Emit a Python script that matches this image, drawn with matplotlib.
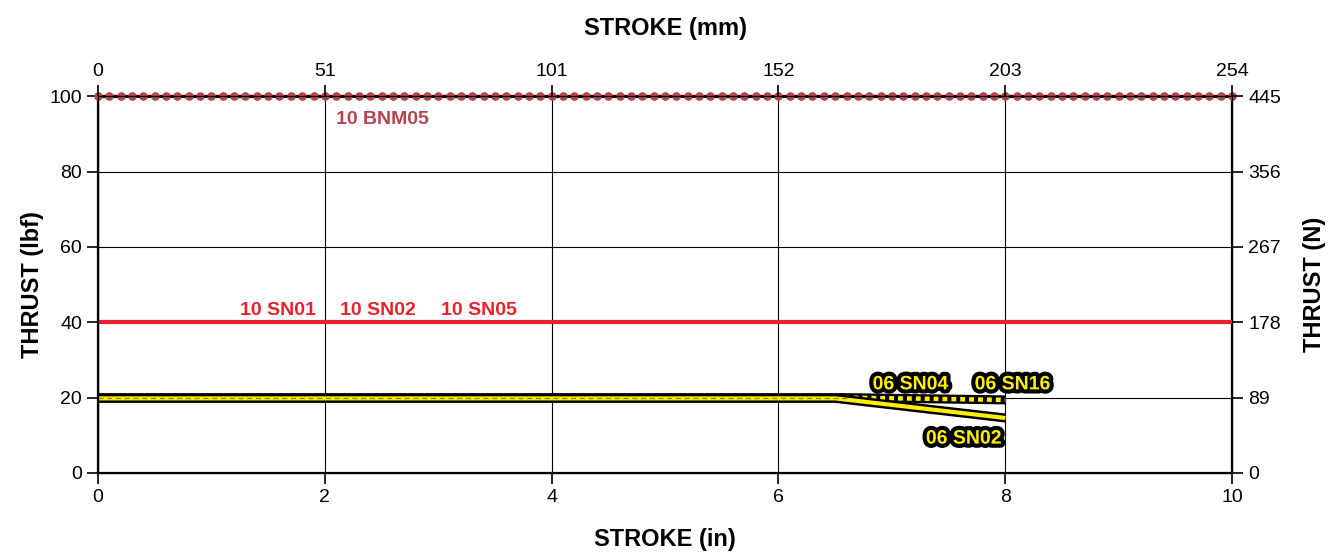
import numpy as np
import matplotlib.pyplot as plt
import matplotlib.patheffects as pe

plt.rcParams['font.family'] = ['Liberation Sans', 'DejaVu Sans']

# stroke (in) / thrust (lbf)
bnm05_x = [0, 10]
bnm05_y = [100, 100]
sn01_x = [0, 10]
sn01_y = [40, 40]
sn16_x = [0, 6.6, 8]
sn16_y = [20.0, 20.0, 19.4]
sn04_x = [0, 6.6]
sn04_y = [20.0, 20.0]
sn02_x = [0, 6.5, 8]
sn02_y = [19.8, 19.8, 14.6]

in_ticks = [0, 2, 4, 6, 8, 10]
mm_labels = ['0', '51', '101', '152', '203', '254']
lbf_ticks = [0, 20, 40, 60, 80, 100]
n_labels = ['0', '89', '178', '267', '356', '445']

fig = plt.figure(figsize=(13.32, 5.53), dpi=100)
ax = fig.add_axes([0.0736, 0.1447, 0.8514, 0.6813])
ax.set_xlim(0, 10)
ax.set_ylim(0, 100)
ax.set_xticks(in_ticks)
ax.set_yticks(lbf_ticks)
ax.grid(True, color='black', lw=0.8)
ax.set_axisbelow(True)
for s in ax.spines.values():
    s.set_linewidth(1.6)
ax.tick_params(labelsize=14, length=8, width=1.2, direction='out')

outline = [pe.Stroke(linewidth=6.5, foreground='black'), pe.Normal()]

# 10 BNM05
bx = np.arange(0, 10.001, 0.1)
ax.plot(bnm05_x, bnm05_y, color='black', lw=2.2, clip_on=False, zorder=4)
ax.plot(bx, np.full_like(bx, bnm05_y[0]), ls='none', marker='o', ms=5.2,
        color='#b5434f', clip_on=False, zorder=5)

# 10 SN01/02/05
ax.plot(sn01_x, sn01_y, color='#e8222c', lw=3, zorder=4)

# 06 SN16 (dotted on black), 06 SN02 (solid), 06 SN04
ax.plot(sn16_x, sn16_y, color='black', lw=6.5, solid_capstyle='butt', zorder=4)
ax.plot(sn16_x, sn16_y, color='#ffee00', lw=3.2, ls=(0, (1.1, 0.9)),
        dash_capstyle='butt', zorder=4.5)
ax.plot(sn02_x, sn02_y, color='#ffee00', lw=3, solid_capstyle='butt',
        path_effects=outline, zorder=5)
ax.plot(sn04_x, sn04_y, color='#8a8a10', lw=0.9, ls=(0, (4, 3)), zorder=6)

bold = dict(fontsize=14, fontweight='bold')
ax.text(2.1, 92.5, '10 BNM05', color='#b5434f', **bold)
ax.text(1.25, 42, '10 SN01', color='#e8222c', **bold)
ax.text(2.13, 42, '10 SN02', color='#e8222c', **bold)
ax.text(3.02, 42, '10 SN05', color='#e8222c', **bold)
glow = [pe.Stroke(linewidth=6, foreground='black'), pe.Normal()]
ax.text(6.83, 22.2, '06 SN04', color='#ffee00', path_effects=glow, **bold)
ax.text(7.73, 22.2, '06 SN16', color='#ffee00', path_effects=glow, **bold)
ax.text(7.3, 7.8, '06 SN02', color='#ffee00', path_effects=glow, **bold)

ax.set_xlabel('STROKE (in)', fontsize=17, fontweight='bold', labelpad=16)
ax.set_ylabel('THRUST (lbf)', fontsize=17, fontweight='bold', labelpad=4)

axt = ax.twiny()
axt.set_xlim(0, 10)
axt.set_xticks(in_ticks)
axt.set_xticklabels(mm_labels)
axt.tick_params(labelsize=14, length=8, width=1.2)
axt.set_xlabel('STROKE (mm)', fontsize=17, fontweight='bold', labelpad=20)

axr = ax.twinx()
axr.set_ylim(0, 100)
axr.set_yticks(lbf_ticks)
axr.set_yticklabels(n_labels)
axr.tick_params(labelsize=14, length=8, width=1.2)
axr.set_ylabel('THRUST (N)', fontsize=17, fontweight='bold', labelpad=16)

fig.savefig('out.png', dpi=100)
